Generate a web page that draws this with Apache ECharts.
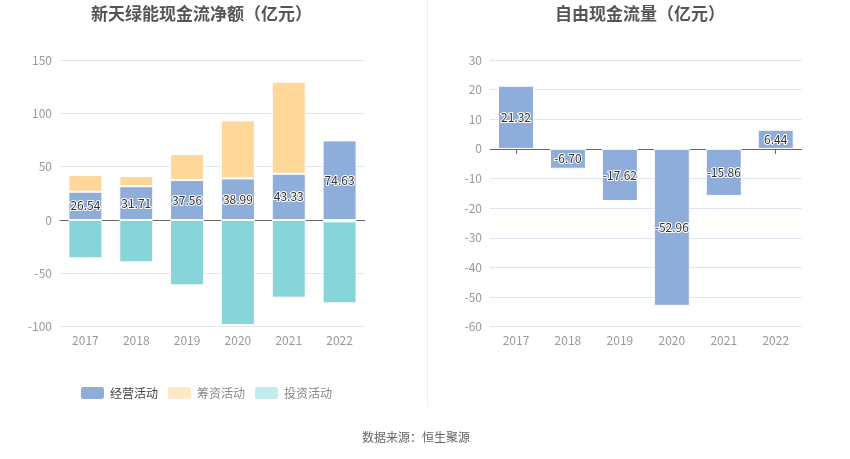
<!DOCTYPE html>
<html><head><meta charset="utf-8">
<script src="https://cdn.jsdelivr.net/npm/echarts@6/dist/echarts.min.js"></script>
<style>html,body{margin:0;padding:0;background:#fff}#c{width:850px;height:459px}</style>
</head><body><div id="c"></div>
<script>
const years = ['2017','2018','2019','2020','2021','2022'];
const operating = [26.54, 31.71, 37.56, 38.99, 43.33, 74.63];
const financing = [15.6, 9.5, 24.3, 54.4, 86.3, -1.2];
const investing = [-35.9, -39.7, -61.2, -98.4, -72.8, -76.9];
const freeCash = [21.32, -6.70, -17.62, -52.96, -15.86, 6.44];
const leftTicks = {min: -100, max: 150, interval: 50};
const rightTicks = {min: -60, max: 30, interval: 10};

const FONT = '"Noto Sans CJK SC","Noto Sans",sans-serif';
const chart = echarts.init(document.getElementById('c'));
const labelStyle = {show: true, position: 'inside', color: '#333', fontSize: 12, fontFamily: FONT,
  textBorderColor: '#fff', textBorderWidth: 2, formatter: p => p.value.toFixed(2)};
const cats = (gi) => ({type: 'category', data: years, gridIndex: gi, position: 'bottom',
  axisLine: {show: false, onZero: false}, axisTick: {show: false},
  axisLabel: {color: '#999', fontSize: 12, fontFamily: FONT, margin: 8}});
const zeroAxis = (gi, ticks) => ({type: 'category', data: years, gridIndex: gi, position: 'bottom',
  axisLine: {show: true, onZero: true, lineStyle: {color: '#666'}},
  axisTick: {show: ticks, alignWithLabel: true, lineStyle: {color: '#666'}},
  axisLabel: {show: false}, splitLine: {show: false}});
const vals = (gi, t) => ({type: 'value', gridIndex: gi, min: t.min, max: t.max, interval: t.interval,
  axisLine: {show: false}, axisTick: {show: false},
  axisLabel: {color: '#999', fontSize: 12, fontFamily: FONT},
  splitLine: {lineStyle: {color: '#e0e6f1'}}});

chart.setOption({
  animation: false,
  textStyle: {fontFamily: FONT},
  title: [
    {text: '新天绿能现金流净额（亿元）', left: 86, top: 0, textStyle: {fontSize: 17, fontWeight: 'bold', color: '#555', fontFamily: FONT}},
    {text: '自由现金流量（亿元）', left: 550, top: 0, textStyle: {fontSize: 17, fontWeight: 'bold', color: '#555', fontFamily: FONT}},
    {text: '数据来源：恒生聚源', left: 357, top: 426, textStyle: {fontSize: 12, fontWeight: 'normal', color: '#666', fontFamily: FONT}}
  ],
  legend: {left: 74, top: 380, itemWidth: 25, itemHeight: 14, itemGap: 8,
    textStyle: {fontSize: 12, color: '#666', fontFamily: FONT},
    data: [
      {name: '经营活动', itemStyle: {color: '#8eaddb'}, textStyle: {color: '#444'}},
      {name: '筹资活动', itemStyle: {color: '#ffe8c6'}, textStyle: {color: '#888'}},
      {name: '投资活动', itemStyle: {color: '#c2ebeb'}, textStyle: {color: '#888'}}
    ]},
  graphic: [{type: 'line', shape: {x1: 427.5, y1: 0, x2: 427.5, y2: 407}, style: {stroke: '#eee', lineWidth: 1}}],
  grid: [
    {left: 60, top: 60, width: 305, height: 266.7},
    {left: 490, top: 60, width: 311.7, height: 266.7}
  ],
  xAxis: [cats(0), zeroAxis(0, false), cats(1), zeroAxis(1, true)],
  yAxis: [vals(0, leftTicks), vals(1, rightTicks)],
  series: [
    {name: '经营活动', type: 'bar', stack: 'a', xAxisIndex: 0, yAxisIndex: 0, data: operating, barWidth: 34,
      itemStyle: {color: '#8eaddb', borderColor: '#fff', borderWidth: 1}, label: labelStyle},
    {name: '筹资活动', type: 'bar', stack: 'a', xAxisIndex: 0, yAxisIndex: 0, data: financing, barWidth: 34,
      itemStyle: {color: '#ffd899', borderColor: '#fff', borderWidth: 1}},
    {name: '投资活动', type: 'bar', stack: 'a', xAxisIndex: 0, yAxisIndex: 0, data: investing, barWidth: 34,
      itemStyle: {color: '#87d5d9', borderColor: '#fff', borderWidth: 1}},
    {name: '自由现金流量', type: 'bar', xAxisIndex: 2, yAxisIndex: 1, data: freeCash, barWidth: 36,
      itemStyle: {color: '#8eaddb', borderColor: '#fff', borderWidth: 1}, label: labelStyle}
  ]
});
</script></body></html>
